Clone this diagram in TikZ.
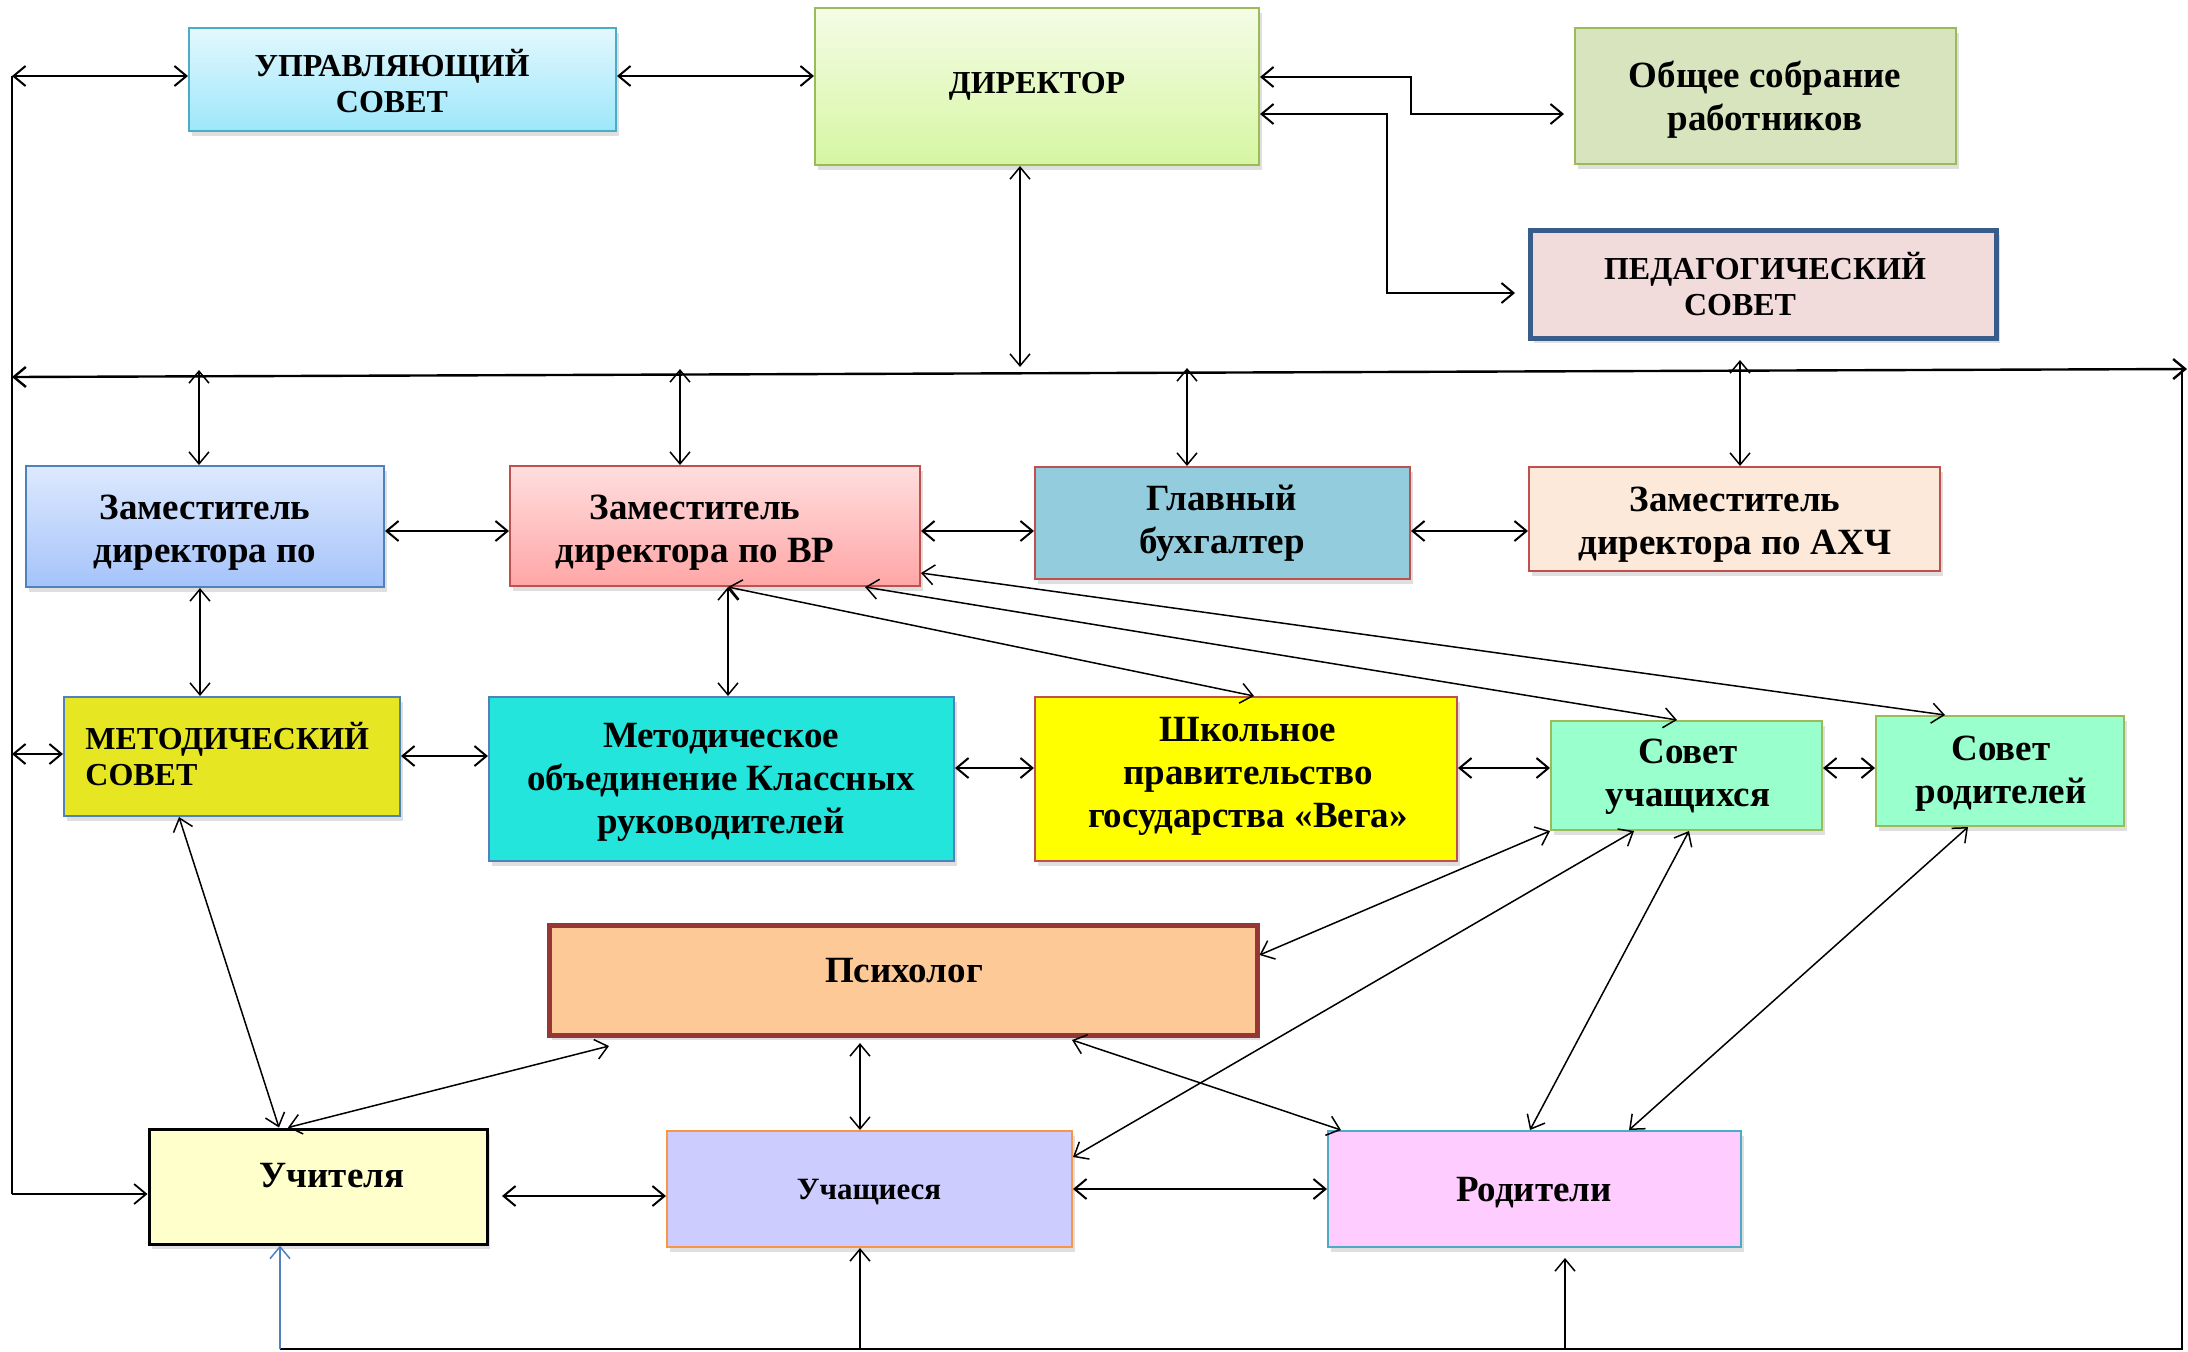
\documentclass[tikz,border=0pt]{standalone}
\usepackage{fontspec}
\setmainfont{Liberation Serif}
\usetikzlibrary{arrows.meta,shadows,calc}
\definecolor{uprT}{HTML}{E3F8FD}\definecolor{uprB}{HTML}{9DE7FB}\definecolor{uprD}{HTML}{4BACC6}
\definecolor{dirT}{HTML}{F4FCE6}\definecolor{dirB}{HTML}{D6F6A2}\definecolor{grnD}{HTML}{9BBB59}
\definecolor{obshF}{HTML}{D7E4BD}
\definecolor{pedF}{HTML}{F2DCDB}\definecolor{pedD}{HTML}{385D8A}
\definecolor{zdT}{HTML}{DDE9FE}\definecolor{zdB}{HTML}{A5C3FA}\definecolor{bluD}{HTML}{4F81BD}
\definecolor{zvrT}{HTML}{FFDEDE}\definecolor{zvrB}{HTML}{FFA6A6}\definecolor{redD}{HTML}{C0504D}
\definecolor{gbF}{HTML}{93CDDD}
\definecolor{axF}{HTML}{FDE9D9}
\definecolor{msF}{HTML}{E6E622}
\definecolor{moF}{HTML}{24E5DC}
\definecolor{shF}{HTML}{FFFF00}
\definecolor{suF}{HTML}{99FFCC}
\definecolor{psF}{HTML}{FCC997}\definecolor{psD}{HTML}{953735}
\definecolor{ucF}{HTML}{FFFFCC}
\definecolor{usF}{HTML}{CCCCFF}\definecolor{usD}{HTML}{F79646}
\definecolor{rdF}{HTML}{FFCCFF}
\begin{document}
\begin{tikzpicture}[x=0.5pt,y=-0.5pt,
  >={Straight Barb[length=6pt,width=10pt]},
  bx/.style={draw, line width=1pt, inner sep=0pt,
    drop shadow={shadow xshift=1.5pt,shadow yshift=-2.5pt,opacity=0.25}},
  tx/.style={font=\bfseries\fontsize{18.5pt}{21.5pt}\selectfont, align=center, inner sep=0pt},
  txs/.style={font=\bfseries\fontsize{16pt}{18pt}\selectfont, align=center, inner sep=0pt},
  arr/.style={<->, line width=0.75pt},
  arrh/.style={<->, line width=1pt},
  arr1/.style={->, line width=0.75pt},
  ln/.style={line width=0.9pt}]
\fill[white] (0,0) rectangle (2188,1351);
\useasboundingbox (0,0) rectangle (2188,1351);

% boxes
\node[bx, draw=uprD, top color=uprT, bottom color=uprB, minimum width=213.5pt, minimum height=51.5pt] (upr) at (402.5,79.5) {};
\node[bx, draw=grnD, top color=dirT, bottom color=dirB, minimum width=222pt, minimum height=78.5pt] (dir) at (1037,86.5) {};
\node[bx, draw=grnD, fill=obshF, minimum width=190.5pt, minimum height=68pt] (obsh) at (1765.5,96) {};
\node[bx, draw=pedD, line width=2.5pt, fill=pedF, minimum width=233pt, minimum height=54pt] (ped) at (1763.5,284) {};
\node[bx, draw=bluD, top color=zdT, bottom color=zdB, minimum width=179pt, minimum height=60.5pt] (zd) at (205,526.5) {};
\node[bx, draw=redD, top color=zvrT, bottom color=zvrB, minimum width=205pt, minimum height=60pt] (zvr) at (715,526) {};
\node[bx, draw=redD, fill=gbF, minimum width=187.5pt, minimum height=56pt] (gb) at (1222.5,523) {};
\node[bx, draw=redD, fill=axF, minimum width=205.5pt, minimum height=52pt] (axch) at (1734.5,519) {};
\node[bx, draw=bluD, fill=msF, minimum width=168pt, minimum height=59.5pt] (ms) at (232,756.5) {};
\node[bx, draw=bluD, fill=moF, minimum width=232.5pt, minimum height=82pt] (mo) at (721.5,779) {};
\node[bx, draw=redD, fill=shF, minimum width=211pt, minimum height=82pt] (shp) at (1246,779) {};
\node[bx, draw=grnD, fill=suF, minimum width=135.5pt, minimum height=54.5pt] (su) at (1686.5,775.5) {};
\node[bx, draw=grnD, fill=suF, minimum width=124pt, minimum height=55pt] (sr) at (2000,771) {};
\node[bx, draw=psD, line width=2.5pt, fill=psF, minimum width=354pt, minimum height=55pt] (psy) at (903,980) {};
\node[bx, draw=black, line width=1.5pt, fill=ucF, minimum width=169pt, minimum height=57.5pt] (uch) at (318,1186.5) {};
\node[bx, draw=usD, fill=usF, minimum width=202.5pt, minimum height=58pt] (uchs) at (869.5,1189) {};
\node[bx, draw=uprD, fill=rdF, minimum width=206.5pt, minimum height=58pt] (rod) at (1534.5,1189) {};

% texts
\node[txs] (upr-t) at (392,81) {УПРАВЛЯЮЩИЙ\\СОВЕТ};
\node[txs] (dir-t) at (1037,86) {ДИРЕКТОР};
\node[tx] (obsh-t) at (1765,100) {Общее собрание\\работников};
\node[txs] (ped-t) at (1765,284) {ПЕДАГОГИЧЕСКИЙ\\СОВЕТ\hspace*{25pt}};
\node[tx] (zd-t) at (205,533) {Заместитель\\директора по};
\node[tx] (zvr-t) at (695,533) {Заместитель\\директора по ВР};
\node[tx] (gb-t) at (1222,523) {Главный\\бухгалтер};
\node[tx] (axch-t) at (1735,525) {Заместитель\\директора по АХЧ};
\node[txs, align=left, anchor=west] (ms-t) at (85,754) {МЕТОДИЧЕСКИЙ\\СОВЕТ};
\node[tx] (mo-t) at (721,782) {Методическое\\объединение Классных\\руководителей};
\node[tx] (shp-t) at (1248,776) {Школьное\\правительство\\государства «Вега»};
\node[tx] (su-t) at (1688,777) {Совет\\учащихся};
\node[tx] (sr-t) at (2001,774) {Совет\\родителей};
\node[tx] (psy-t) at (904,971) {Психолог};
\node[tx] (uch-t) at (332,1176) {Учителя};
\node[txs, font=\bfseries\fontsize{15.5pt}{18pt}\selectfont] (uchs-t) at (869,1192) {Учащиеся};
\node[tx] (rod-t) at (1534,1193) {Родители};

% named free ends
\coordinate (lt) at (12,76);
\coordinate (lb) at (12,1194);
\coordinate (bl) at (12,377);
\coordinate (br) at (2187,369);
\coordinate (rt) at (2182,369);
\coordinate (rb) at (2182,1349);
\coordinate (bb) at (280,1349);
\coordinate (bu2) at (860,1349);
\coordinate (bu3) at (1565,1349);
\coordinate (rod-in) at (1565,1258);
\coordinate (obsh-in) at (1564,114);
\coordinate (ped-in) at (1515,293);
\coordinate (dir-bus) at (1020,367);
\coordinate (zd-bus) at (199,370);
\coordinate (zvr-bus) at (680,369);
\coordinate (gb-bus) at (1187,368);
\coordinate (ax-bus) at (1740,360);
\coordinate (ms-l) at (12,754);
\coordinate (psy-uc) at (609,1046);
\coordinate (psy-us) at (860,1043);
\coordinate (psy-rd) at (1072,1040);
\coordinate (uch-r) at (502,1196);

% left bus
\draw[ln] (lt) -- (lb);
\draw[arr1, line width=0.9pt] (lb) -- (uch.west |- lb);
\draw[arrh] (lt) -- (upr.west |- lt);
\draw[arrh] (upr.east |- lt) -- (dir.west |- lt);
\draw[arrh] (dir.east |- 0,77) -- (1411,77) |- (obsh-in);
\draw[arrh] (dir.east |- 0,114) -- (1387,114) |- (ped-in);

% middle bus
\draw[arrh, line width=1.2pt] (bl) -- (br);
\draw[arr] (dir.south -| dir-bus) -- (dir-bus);
\draw[arr] (zd-bus) -- (zd.north -| zd-bus);
\draw[arr] (zvr-bus) -- (zvr.north -| zvr-bus);
\draw[arr] (gb-bus) -- (gb.north -| gb-bus);
\draw[arr] (ax-bus) -- (axch.north -| ax-bus);

% right and bottom bus
\draw[ln] (rt) -- (rb) -- (bb);
\draw[arr1, draw=bluD] (bb) -- (uch.south -| bb);
\draw[arr1] (bu2) -- (uchs.south -| bu2);
\draw[arr1] (bu3) -- (rod-in);

% row 2
\draw[arrh] (zd.east |- 0,531) -- (zvr.west |- 0,531);
\draw[arrh] (zvr.east |- 0,531) -- (gb.west |- 0,531);
\draw[arrh] (gb.east |- 0,531) -- (axch.west |- 0,531);

% row 2 to row 3
\draw[arr] (zd.south -| 200,0) -- (ms.north -| 200,0);
\draw[arr] (zvr.south -| 728,0) -- (mo.north -| 728,0);
\draw[arr] (zvr.south -| 728,0) -- (shp.north -| 1254,0);
\draw[arr] (zvr.south -| 865,0) -- (su.north -| 1677,0);
\draw[arr] (zvr.east |- 0,573) -- (sr.north -| 1945,0);

% row 3
\draw[arrh] (ms-l) -- (ms.west |- ms-l);
\draw[arrh] (ms.east |- 0,756) -- (mo.west |- 0,756);
\draw[arrh] (mo.east |- 0,768) -- (shp.west |- 0,768);
\draw[arrh] (shp.east |- 0,768) -- (su.west |- 0,768);
\draw[arrh] (su.east |- 0,768) -- (sr.west |- 0,768);

% to lower rows
\draw[arr] (ms.south -| 179,0) -- (uch.north -| 279,0);
\draw[arr] (psy-uc) -- (uch.north -| 288,0);
\draw[arr] (psy-us) -- (uchs.north -| psy-us);
\draw[arr] (psy-rd) -- (rod.north -| 1341,0);
\draw[arr] (su.south west) -- (psy.east |- 0,955);
\draw[arr] (su.south -| 1634,0) -- (uchs.east |- 0,1157);
\draw[arr] (su.south -| 1689,0) -- (rod.north -| 1530,0);
\draw[arr] (sr.south -| 1968,0) -- (rod.north -| 1629,0);

% bottom row
\draw[arrh] (uch-r) -- (uchs.west |- uch-r);
\draw[arrh] (uchs.east |- 0,1189) -- (rod.west |- 0,1189);
\end{tikzpicture}
\end{document}
